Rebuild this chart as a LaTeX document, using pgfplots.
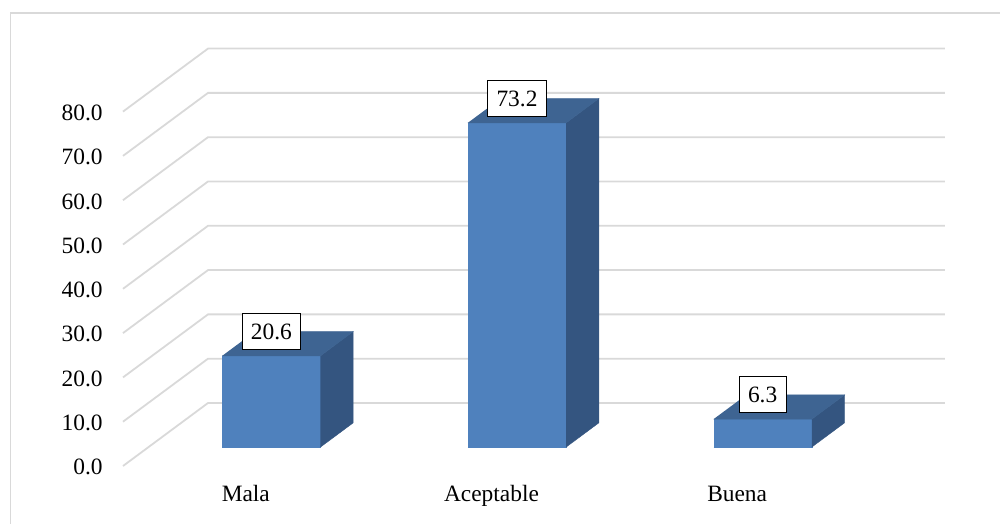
\documentclass[border=0pt]{standalone}
\usepackage{fontspec}
\setmainfont{Liberation Serif}
\usepackage{pgfplots}
\pgfplotsset{compat=1.18}

\definecolor{barfront}{RGB}{79,129,189}
\definecolor{barside}{RGB}{52,85,128}
\definecolor{bartop}{RGB}{62,100,146}
\definecolor{gridgray}{RGB}{217,217,217}

% one 3-D column: left x, right x, centre x, value
\newcommand\column[4]{%
  \addplot3[fill=barfront, draw=barfront, line width=0.2pt]
    coordinates {(#1,0.3,0) (#2,0.3,0) (#2,0.3,#4) (#1,0.3,#4)};
  \addplot3[fill=barside, draw=barside, line width=0.2pt]
    coordinates {(#2,0.3,0) (#2,0.685,0) (#2,0.685,#4) (#2,0.3,#4)};
  \addplot3[fill=bartop, draw=bartop, line width=0.2pt]
    coordinates {(#1,0.3,#4) (#2,0.3,#4) (#2,0.685,#4) (#1,0.685,#4)};
  \node[valbox] at (axis cs:#3,0.3,#4) {#4};
}

\begin{document}
\begin{tikzpicture}[
  valbox/.style={draw=black, line width=0.5pt, fill=white,
    inner xsep=4.4pt, inner ysep=5pt, text height=8pt, text depth=0pt,
    yshift=12.4pt, font=\fontsize{11.7}{14}\selectfont}]
\begin{axis}[
  x={(122.83pt,0pt)}, y={(42.5pt,31.5pt)}, z={(0pt,2.215pt)},
  xmin=-0.5, xmax=2.5, ymin=0, ymax=1, zmin=0, zmax=80,
  clip=false, no marks,
  axis line style={draw=none},
  major tick length=0pt,
  xtick={0,1,2}, xticklabels={Mala,Aceptable,Buena},
  ytick=\empty,
  ztick={0,10,...,80},
  tick label style={font=\fontsize{11.7}{14}\selectfont},
  /pgf/number format/assume math mode=true,
  zticklabel={\pgfmathprintnumber[fixed,fixed zerofill,precision=1]{\tick}},
  z tick label style={anchor=east, inner sep=0pt, xshift=-10pt, yshift=-0.6pt},
  x tick label style={anchor=base, inner sep=0pt, yshift=-17.8pt},
]
% walls: side wall rises diagonally, back wall runs across
\pgfplotsinvokeforeach{0,10,...,80}{
  \addplot3[gridgray, line width=0.9pt]
    coordinates {(-0.5,0,#1) (-0.5,1,#1) (2.5,1,#1)};
}
\column{-0.2}{0.2}{0}{20.6}
\column{0.8}{1.2}{1}{73.2}
\column{1.8}{2.2}{2}{6.3}
\coordinate (O) at (axis cs:-0.5,0,0);
\end{axis}
\draw[gridgray, line width=0.75pt]
  ([shift={(-56.25pt,-40pt)}]O) |- ([shift={(470pt,226.5pt)}]O);
\pgfresetboundingbox
\path[use as bounding box]
  ([shift={(-61.5pt,-29pt)}]O) rectangle ([shift={(438.5pt,233pt)}]O);
\end{tikzpicture}
\end{document}
